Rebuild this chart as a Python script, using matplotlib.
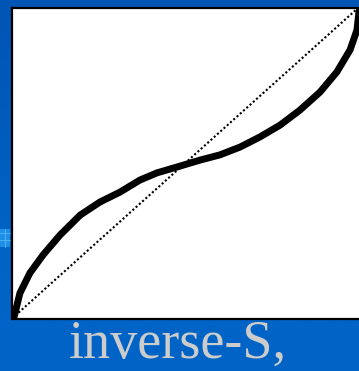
import numpy as np
import matplotlib.pyplot as plt
from matplotlib.colors import LinearSegmentedColormap
from matplotlib.patches import Rectangle

# probability weighting function, inverse-S shape
p = [0.0, 0.006, 0.023, 0.052, 0.090, 0.139, 0.197, 0.254, 0.312, 0.370, 0.419,
     0.477, 0.543, 0.601, 0.659, 0.717, 0.775, 0.832, 0.890, 0.939, 0.977,
     0.997, 1.003]
w = [0.0, 0.005, 0.082, 0.147, 0.205, 0.269, 0.333, 0.375, 0.407, 0.446, 0.469,
     0.488, 0.510, 0.527, 0.552, 0.585, 0.623, 0.671, 0.729, 0.794, 0.865,
     0.929, 0.990]
diag = [0.0, 1.0]
caption = 'inverse-S,'

W, H = 359, 371
fig = plt.figure(figsize=(W / 100, H / 100), dpi=100)

# slide background, slightly darker towards the top
bg = fig.add_axes([0, 0, 1, 1], zorder=-2)
cmap = LinearSegmentedColormap.from_list('slide', ['#0054b4', '#005cbc', '#0063c6', '#0063c6'])
bg.imshow(np.linspace(0, 1, 256).reshape(-1, 1), aspect='auto', cmap=cmap,
          extent=[0, 1, 0, 1], origin='upper')
bg.add_patch(Rectangle((0, 1 - 247 / H), 10 / W, 18 / H, color='#1e8fe6', lw=0))
for yy in (233, 240):
    bg.plot([0, 10 / W], [1 - yy / H] * 2, color='#55b4f2', lw=0.6)
bg.plot([5 / W] * 2, [1 - 247 / H, 1 - 229 / H], color='#55b4f2', lw=0.6)
bg.set_xlim(0, 1)
bg.set_ylim(0, 1)
bg.axis('off')

left, right, top, bottom = 12, 361, 8, 318.5
ax = fig.add_axes([left / W, (H - bottom) / H, (right - left) / W, (bottom - top) / H])
ax.set_facecolor('white')
ax.plot(diag, diag, color='black', lw=1.5, linestyle=(0, (1, 1.1)))
ax.plot(p, w, color='black', lw=5, solid_capstyle='round', solid_joinstyle='round')
ax.set_xlim(0, (right - left) / 346)
ax.set_ylim(0, 1.0)
ax.set_xticks([])
ax.set_yticks([])
for s in ax.spines.values():
    s.set_linewidth(1.6)
    s.set_color('black')

fig.text(178 / W, 1 - 358 / H, caption, ha='center', va='baseline',
         fontsize=39, color='#cccccc', family='Liberation Serif')

fig.savefig('out.png', dpi=100)
